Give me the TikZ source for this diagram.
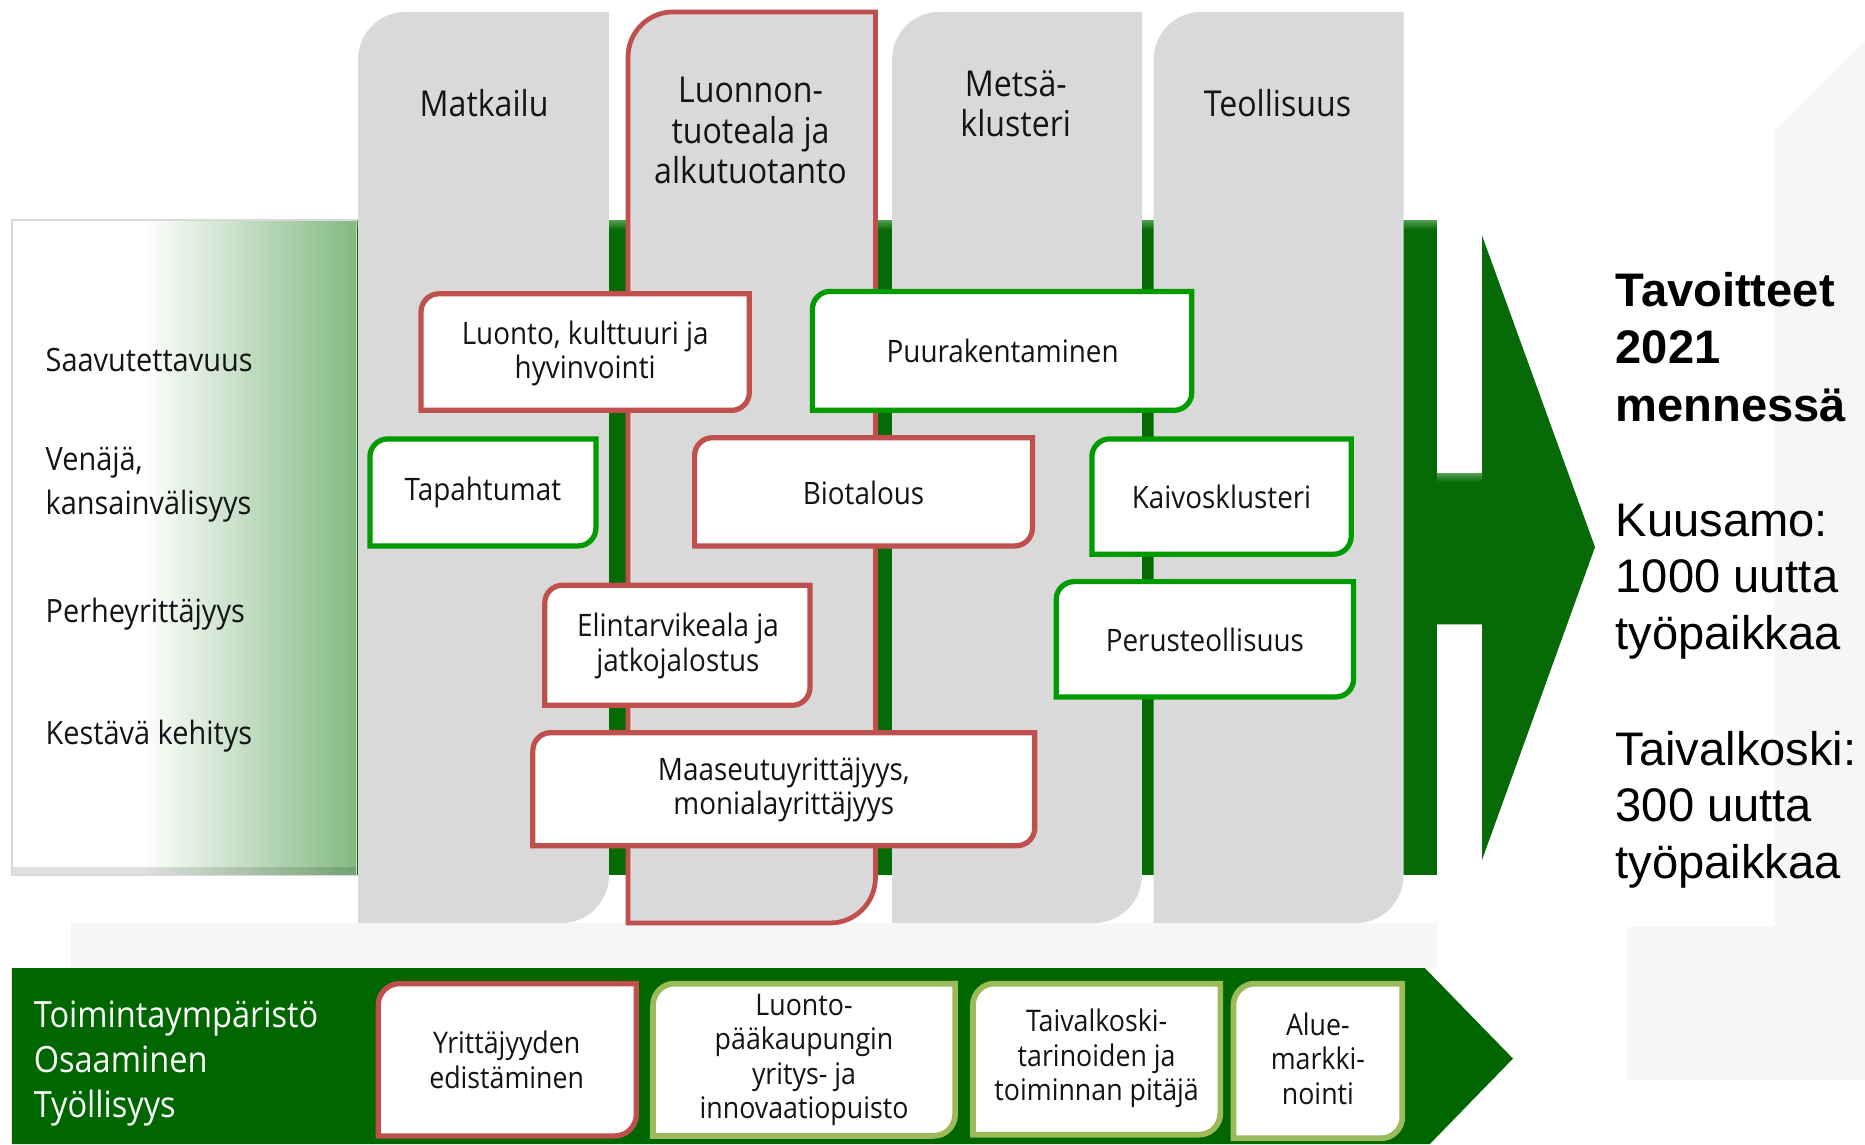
\documentclass[tikz,border=0pt]{standalone}
\usepackage{fontspec}
\setmainfont{Open Sans}[FakeStretch=0.9]
\newfontfamily\arialf{Liberation Sans}

\definecolor{colgray}{HTML}{D9D9D9}
\definecolor{boxred}{HTML}{C0504D}
\definecolor{boxgreen}{RGB}{0,155,0}
\definecolor{lightgreen}{HTML}{9BBB59}
\definecolor{bandgreen}{RGB}{6,106,6}
\definecolor{bevelgreen}{RGB}{80,160,80}
\definecolor{botgreen}{RGB}{0,102,0}
\definecolor{gradgreen}{RGB}{130,185,130}
\definecolor{wm}{RGB}{246,246,246}
\definecolor{txt}{RGB}{20,20,20}

% shape with rounded top-left and bottom-right corners
\newcommand\cornerpath[6]{%
  \path[#6] (#1,#4) -- (#1,{#2+#5}) .. controls (#1,{#2+0.448*#5}) and ({#1+0.448*#5},#2) .. ({#1+#5},#2)
    -- (#3,#2) -- (#3,{#4-#5}) .. controls (#3,{#4-0.448*#5}) and ({#3-0.448*#5},#4) .. ({#3-#5},#4) -- cycle;}

\tikzset{
  colbox/.style={fill=colgray},
  redcol/.style={fill=colgray, draw=boxred, line width=2pt},
  redbox/.style={fill=white, draw=boxred, line width=2.2pt},
  greenbox/.style={fill=white, draw=boxgreen, line width=2.2pt},
  lgbox/.style={fill=white, draw=lightgreen, line width=2.4pt},
  coltitle/.style={font=\fontsize{15}{17}\selectfont, text=txt, align=center, inner sep=0pt},
  boxtext/.style={font=\fontsize{13}{14.5}\selectfont, text=txt, align=center, inner sep=0pt},
  lefttext/.style={font=\fontsize{13.5}{18.5}\selectfont, text=txt, align=left, inner sep=0pt, anchor=west},
  bandtext/.style={font=\fontsize{15.2}{19}\selectfont, text=white, align=left, inner sep=0pt, anchor=west},
  bottext/.style={font=\fontsize{12.5}{14.5}\selectfont, text=txt, align=center, inner sep=0pt},
  goaltext/.style={font=\arialf\fontsize{19.8}{24}\selectfont, text=black, anchor=base west, inner sep=0pt},
  goalbold/.style={goaltext, font=\arialf\bfseries\fontsize{19.8}{24}\selectfont},
}

\begin{document}
\begin{tikzpicture}[x=0.5pt, y=-0.5pt]
\useasboundingbox (0,0) rectangle (1568,962);
\fill[white] (0,0) rectangle (1568,962);

% faint watermark
\fill[wm] (60,776) rectangle (1208,814);
\fill[wm] (1492,110) -- (1568,34) -- (1568,779) -- (1492,779) -- cycle;
\fill[wm] (1368,779) rectangle (1568,908);

% left gradient box
\fill[white] (10,185) rectangle (120,736);
\shade[left color=white, right color=gradgreen] (120,185) rectangle (300,736);
\fill[black, opacity=0.12] (10,729) rectangle (300,736);
\draw[gray!30, line width=0.6pt] (10,185) rectangle (300,736);

% green band with arrow
\fill[bandgreen] (300,185) rectangle (1208,736);
\shade[top color=bevelgreen, bottom color=bandgreen] (300,185) rectangle (1208,193);
\fill[bandgreen] (1208,398) -- (1246,398) -- (1246,198) -- (1341,460) -- (1246,723) -- (1246,525) -- (1208,525) -- cycle;
\shade[top color=bevelgreen, bottom color=bandgreen] (1208,398) rectangle (1246,405);

% columns
\cornerpath{301}{10}{512}{776}{40}{colbox}
\cornerpath{528}{10}{736}{776}{38}{redcol}
\cornerpath{750}{10}{960}{776}{40}{colbox}
\cornerpath{970}{10}{1180}{776}{40}{colbox}

\node[coltitle] (matk) at (407,87) {Matkailu};
\node[coltitle] (luon) at (631,110) {Luonnon-\\tuoteala ja\\alkutuotanto};
\node[coltitle] (mets) at (854,87) {Metsä-\\klusteri};
\node[coltitle] (teol) at (1074,87) {Teollisuus};

% boxes
\cornerpath{354}{247}{630}{345}{15}{redbox}
\node[boxtext] (b1) at (492,297) {Luonto, kulttuuri ja\\hyvinvointi};
\cornerpath{683}{245}{1002}{345}{15}{greenbox}
\node[boxtext] (b2) at (843,295) {Puurakentaminen};
\cornerpath{311}{369}{501}{459}{15}{greenbox}
\node[boxtext] (b3) at (406,414) {Tapahtumat};
\cornerpath{584}{368}{868}{459}{15}{redbox}
\node[boxtext] (b4) at (726,414) {Biotalous};
\cornerpath{918}{369}{1136}{466}{15}{greenbox}
\node[boxtext] (b5) at (1027,418) {Kaivosklusteri};
\cornerpath{458}{492}{681}{593}{15}{redbox}
\node[boxtext] (b6) at (570,543) {Elintarvikeala ja\\jatkojalostus};
\cornerpath{888}{489}{1138}{586}{15}{greenbox}
\node[boxtext] (b7) at (1013,538) {Perusteollisuus};
\cornerpath{448}{616}{870}{711}{15}{redbox}
\node[boxtext] (b8) at (659,664) {Maaseutuyrittäjyys,\\monialayrittäjyys};

% left texts
\node[lefttext] (l1) at (38,303) {Saavutettavuus};
\node[lefttext] (l2) at (38,407) {Venäjä,\\kansainvälisyys};
\node[lefttext] (l3) at (38,516) {Perheyrittäjyys};
\node[lefttext] (l4) at (38,619) {Kestävä kehitys};

% bottom band
\fill[botgreen] (10,814) -- (1198,814) -- (1272,890) -- (1202,962) -- (10,962) -- cycle;
\node[bandtext] (env) at (28,894) {Toimintaympäristö\\Osaaminen\\Työllisyys};
\cornerpath{318}{827}{535}{955}{18}{redbox}
\node[bottext] (c1) at (426,891) {Yrittäjyyden\\edistäminen};
\cornerpath{549}{827}{803}{955}{18}{lgbox}
\node[bottext] (c2) at (676,891) {Luonto-\\pääkaupungin\\yritys- ja\\innovaatiopuisto};
\cornerpath{818}{827}{1026}{954}{18}{lgbox}
\node[bottext] (c3) at (922,890) {Taivalkoski-\\tarinoiden ja\\toiminnan pitäjä};
\cornerpath{1037}{827}{1179}{957}{18}{lgbox}
\node[bottext] (c4) at (1108,890) {Alue-\\markki-\\nointi};

% goals
\node[goalbold] (g1) at (1358,257.5) {Tavoitteet};
\node[goalbold] (g2) at (1358,306) {2021};
\node[goalbold] (g3) at (1358,354) {mennessä};
\node[goaltext] (g4) at (1358,451) {Kuusamo:};
\node[goaltext] (g5) at (1358,498.5) {1000 uutta};
\node[goaltext] (g6) at (1358,546) {työpaikkaa};
\node[goaltext] (g7) at (1358,643.5) {Taivalkoski:};
\node[goaltext] (g8) at (1358,691) {300 uutta};
\node[goaltext] (g9) at (1358,739) {työpaikkaa};
\end{tikzpicture}
\end{document}
